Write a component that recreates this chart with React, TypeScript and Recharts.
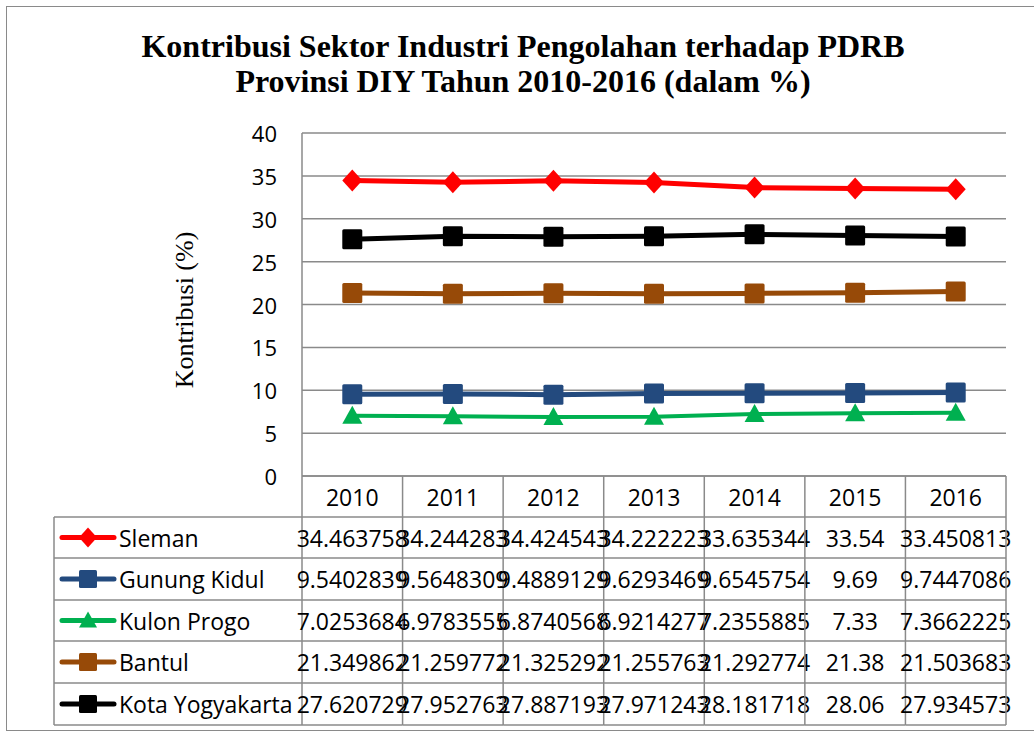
import React from 'react';
import { LineChart, Line, XAxis, YAxis, CartesianGrid } from 'recharts';

const years = ['2010', '2011', '2012', '2013', '2014', '2015', '2016'];
const yTicks = [0, 5, 10, 15, 20, 25, 30, 35, 40];

const sleman = ['34.463758', '34.244283', '34.424543', '34.222223', '33.635344', '33.54', '33.450813'];
const gunungKidul = ['9.5402839', '9.5648309', '9.4889129', '9.6293469', '9.6545754', '9.69', '9.7447086'];
const kulonProgo = ['7.0253684', '6.9783555', '6.8740568', '6.9214277', '7.2355885', '7.33', '7.3662225'];
const bantul = ['21.349862', '21.259772', '21.325292', '21.255763', '21.292774', '21.38', '21.503683'];
const kotaYogyakarta = ['27.620729', '27.952763', '27.887193', '27.971243', '28.181718', '28.06', '27.934573'];

type Shape = 'diamond' | 'square' | 'triangle';

const series: { key: string; name: string; values: string[]; color: string; width: number; shape: Shape }[] = [
  { key: 'sleman', name: 'Sleman', values: sleman, color: '#FF0000', width: 5, shape: 'diamond' },
  { key: 'gunung', name: 'Gunung Kidul', values: gunungKidul, color: '#234A7E', width: 5, shape: 'square' },
  { key: 'kulon', name: 'Kulon Progo', values: kulonProgo, color: '#00B050', width: 4, shape: 'triangle' },
  { key: 'bantul', name: 'Bantul', values: bantul, color: '#974A08', width: 5, shape: 'square' },
  { key: 'kota', name: 'Kota Yogyakarta', values: kotaYogyakarta, color: '#000000', width: 5, shape: 'square' },
];

const chartData = years.map((year, i) => {
  const row: Record<string, string | number> = { year };
  series.forEach(s => {
    row[s.key] = parseFloat(s.values[i]);
  });
  return row;
});

// layout constants (image coordinates)
const PLOT_LEFT = 302;
const PLOT_RIGHT = 1006;
const PLOT_BOTTOM = 476;
const STEP = (PLOT_RIGHT - PLOT_LEFT) / years.length;
const TABLE_LEFT = 54;
const ROW_LINES = [517, 558, 600, 641, 683, 725];
const GRID = '#8A8A8A';
const FONT = '"Open Sans", sans-serif';
const TABLE_FS = 23;

const Marker = ({ shape, cx, cy, color, size = 20 }: { shape: Shape; cx: number; cy: number; color: string; size?: number }) => {
  const h = size / 2;
  if (shape === 'diamond') {
    return <polygon points={`${cx},${cy - h - 1} ${cx + h},${cy} ${cx},${cy + h + 1} ${cx - h},${cy}`} fill={color} />;
  }
  if (shape === 'triangle') {
    return <polygon points={`${cx},${cy - h} ${cx + h},${cy + h - 2} ${cx - h},${cy + h - 2}`} fill={color} />;
  }
  return <rect x={cx - h} y={cy - h} width={size} height={size} rx={1.5} fill={color} />;
};

const TableTick = (props: any) => {
  const { x, payload } = props;
  const i = payload.index;
  const left = x - STEP / 2;
  const right = x + STEP / 2;
  return (
    <g>
      {i === 0 && (
        <g>
          <line x1={left} x2={left} y1={PLOT_BOTTOM} y2={ROW_LINES[5]} stroke={GRID} strokeWidth={1.5} />
          <line x1={TABLE_LEFT} x2={TABLE_LEFT} y1={ROW_LINES[0]} y2={ROW_LINES[5]} stroke={GRID} strokeWidth={1.5} />
          {ROW_LINES.map(y => (
            <line key={y} x1={TABLE_LEFT} x2={left} y1={y} y2={y} stroke={GRID} strokeWidth={1.5} />
          ))}
          {series.map((s, r) => {
            const cy = (ROW_LINES[r] + ROW_LINES[r + 1]) / 2;
            return (
              <g key={s.key}>
                <line x1={62} x2={114} y1={cy} y2={cy} stroke={s.color} strokeWidth={5} strokeLinecap="round" />
                <Marker shape={s.shape} cx={88} cy={cy} color={s.color} size={18} />
                <text x={119} y={cy} dominantBaseline="central" fontSize={TABLE_FS} fontFamily={FONT} fill="#000">
                  {s.name}
                </text>
              </g>
            );
          })}
        </g>
      )}
      <text x={x} y={(PLOT_BOTTOM + ROW_LINES[0]) / 2} textAnchor="middle" dominantBaseline="central" fontSize={TABLE_FS} fontFamily={FONT} fill="#000">
        {payload.value}
      </text>
      {series.map((s, r) => (
        <text
          key={s.key}
          x={x}
          y={(ROW_LINES[r] + ROW_LINES[r + 1]) / 2}
          textAnchor="middle"
          dominantBaseline="central"
          fontSize={TABLE_FS}
          fontFamily={FONT}
          fill="#000"
        >
          {s.values[i]}
        </text>
      ))}
      <line x1={right} x2={right} y1={PLOT_BOTTOM} y2={ROW_LINES[5]} stroke={GRID} strokeWidth={1.5} />
      {ROW_LINES.map(y => (
        <line key={y} x1={left} x2={right} y1={y} y2={y} stroke={GRID} strokeWidth={1.5} />
      ))}
    </g>
  );
};

const YTick = (props: any) => {
  const { y, payload } = props;
  return (
    <text x={277} y={y} textAnchor="end" dominantBaseline="central" fontSize={22} fontFamily={FONT} fill="#000">
      {payload.value}
    </text>
  );
};

const App: React.FC = () => {
  return (
    <div style={{ position: 'absolute', left: 0, top: 0, width: 1034, height: 733, background: '#fff', overflow: 'hidden' }}>
      <div style={{ position: 'absolute', left: 6, top: 6, width: 1040, height: 723, border: `1.5px solid ${GRID}` }} />
      <div
        style={{
          position: 'absolute',
          left: 0,
          top: 29,
          width: 1046,
          textAlign: 'center',
          fontFamily: '"Liberation Serif", serif',
          fontWeight: 'bold',
          fontSize: 32,
          lineHeight: '35px',
        }}
      >
        Kontribusi Sektor Industri Pengolahan terhadap PDRB
        <br />
        Provinsi DIY Tahun 2010-2016 (dalam %)
      </div>
      <div
        style={{
          position: 'absolute',
          left: 185,
          top: 310,
          transform: 'translate(-50%, -50%) rotate(-90deg)',
          fontFamily: '"Liberation Serif", serif',
          fontSize: 26,
          whiteSpace: 'nowrap',
        }}
      >
        Kontribusi (%)
      </div>
      <div style={{ position: 'absolute', left: 0, top: 0 }}>
        <LineChart width={1034} height={733} data={chartData} margin={{ top: 133, right: 28, bottom: 227, left: 242 }}>
          <CartesianGrid horizontal vertical={false} stroke={GRID} strokeWidth={1.5} />
          <XAxis
            dataKey="year"
            height={30}
            padding={{ left: STEP / 2, right: STEP / 2 }}
            axisLine={{ stroke: GRID, strokeWidth: 1.5 }}
            tickLine={false}
            tick={<TableTick />}
            interval={0}
          />
          <YAxis
            width={60}
            domain={[0, 40]}
            ticks={yTicks}
            axisLine={{ stroke: GRID, strokeWidth: 1.5 }}
            tickLine={false}
            tick={<YTick />}
          />
          {series.map(s => (
            <Line
              key={s.key}
              dataKey={s.key}
              name={s.name}
              stroke={s.color}
              strokeWidth={s.width}
              isAnimationActive={false}
              dot={(p: any) => <Marker key={`${s.key}-${p.index}`} shape={s.shape} cx={p.cx} cy={p.cy} color={s.color} />}
              activeDot={false}
            />
          ))}
        </LineChart>
      </div>
    </div>
  );
};

export default App;
